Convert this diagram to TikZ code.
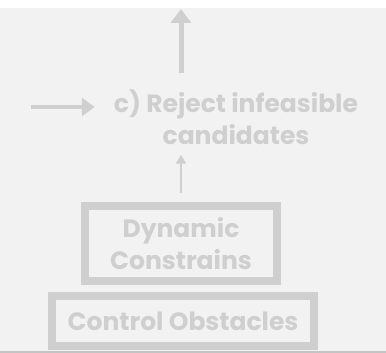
\documentclass[tikz,border=0pt]{standalone}
\usepackage{fontspec}
\setmainfont{Poppins}
\usetikzlibrary{arrows.meta, positioning}
\definecolor{bgGray}{HTML}{F2F2F2}
\definecolor{lineGray}{HTML}{CFCFCF}
\definecolor{edgeGray}{HTML}{C4C4C4}
\tikzstyle{boxNode} = [rectangle, draw=lineGray, line width=8pt, text=lineGray, align=center, font=\fontsize{25}{32}\selectfont\bfseries, inner sep=0pt]
\tikzstyle{txtNode} = [text=lineGray, align=center, font=\fontsize{25}{32}\selectfont\bfseries, inner sep=0pt]
\tikzstyle{arrowT} = [line width=5pt, draw=lineGray, -{Triangle[width=20pt,length=14pt]}]
\tikzstyle{arrowL} = [line width=4pt, draw=lineGray, -{Triangle[width=18pt,length=13pt]}]
\tikzstyle{arrowS} = [line width=2.5pt, draw=lineGray, -{Triangle[width=10pt,length=9pt]}]

\begin{document}
\begin{tikzpicture}[x=1pt, y=-1pt]
        % background
        \fill[bgGray] (0,0) rectangle (386,353);
        \fill[white] (0,0) rectangle (386,8);
        \fill[edgeGray] (0,351) rectangle (386,353);
        \useasboundingbox (0,0) rectangle (386,353);

        \node (reject) [txtNode] at (236,117) {c) Reject infeasible\\candidates};
        \node (dyn) [boxNode, minimum width=192pt, minimum height=75pt] at (181,243.5) {Dynamic\\Constrains};
        \node (ctrl) [boxNode, minimum width=262pt, minimum height=50pt] at (183,321) {Control Obstacles};

        \coordinate (upEnd) at (181,9);
        \coordinate (inStart) at (31,107);

        \draw [arrowT, shorten <=16pt] (reject.north -| upEnd) -- (upEnd);
        \draw [arrowL, shorten >=19pt] (inStart) -- (reject.west |- inStart);
        \draw [arrowS, shorten <=9pt, shorten >=10pt] (dyn.north) -- (dyn.north |- reject.south);
    \end{tikzpicture}
\end{document}
